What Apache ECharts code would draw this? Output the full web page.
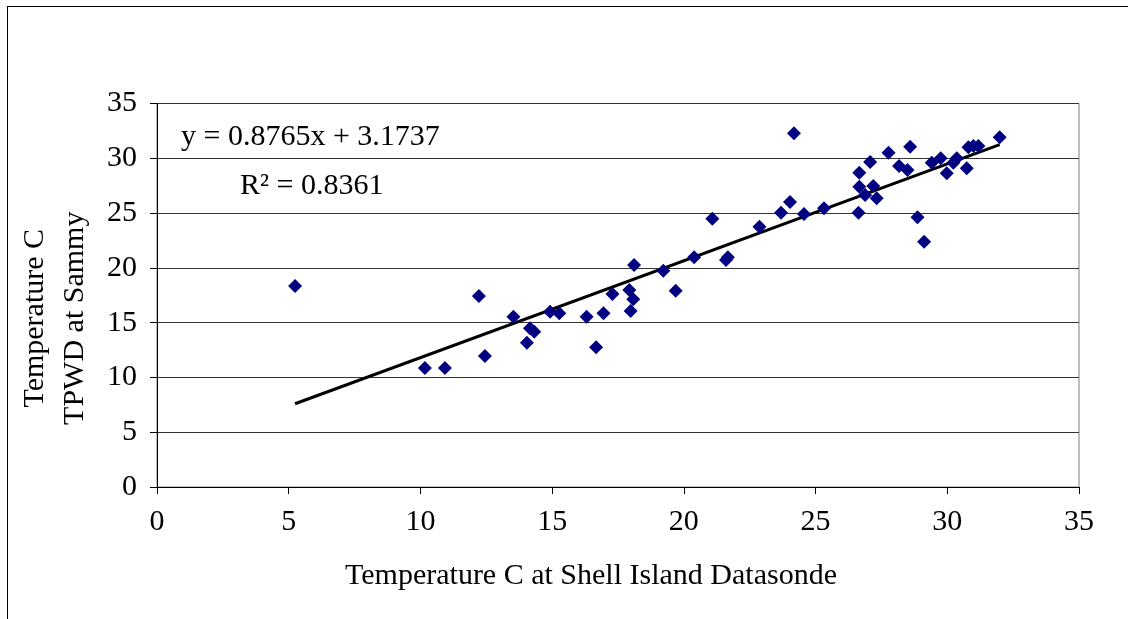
<!DOCTYPE html>
<html>
<head>
<meta charset="utf-8">
<title>Sammy vs Shell Island temperature</title>
<script src="https://cdn.jsdelivr.net/npm/echarts@6/dist/echarts.min.js"></script>
<style>
  html, body { margin: 0; padding: 0; background: #fff; overflow: hidden; }
  #frame {
    position: absolute; left: 7px; top: 6px;
    width: 1200px; height: 700px;
    border: 1.5px solid #000;
  }
  #chart { position: absolute; left: 0; top: 0; width: 1128px; height: 619px; }
</style>
</head>
<body>
<div id="frame"></div>
<div id="chart"></div>
<script>
// Shell Island Datasonde temperature (x) vs TPWD at Sammy (y)
const shellX = [
  5.24, 10.17, 10.93, 12.22, 12.45, 13.53, 14.16, 14.32, 14.04, 14.92,
  15.27, 16.31, 16.95, 16.67, 17.29, 17.93, 18.08, 17.98, 18.11, 19.22,
  19.69, 20.39, 21.08, 21.60, 21.67, 22.87, 23.69, 24.03, 24.18, 24.56,
  25.32, 26.63, 26.66, 26.66, 26.88, 27.19, 27.32, 27.07, 27.77, 28.17,
  28.49, 28.59, 28.87, 29.12, 29.41, 29.75, 29.98, 30.23, 30.36, 30.74,
  30.80, 30.99, 31.18, 31.99
]
const sammyY = [
  18.34, 10.86, 10.86, 17.43, 11.96, 15.54, 14.48, 14.18, 13.17, 16.00,
  15.85, 15.54, 15.85, 12.75, 17.61, 17.98, 17.13, 16.06, 20.26, 19.74,
  17.92, 20.96, 24.49, 20.72, 20.96, 23.76, 25.03, 26.01, 32.28, 24.92,
  25.44, 25.03, 27.41, 28.69, 26.65, 27.47, 26.35, 29.66, 30.51, 29.30,
  28.93, 31.06, 24.61, 22.39, 29.60, 30.00, 28.63, 29.60, 30.00, 29.09,
  31.00, 31.12, 31.12, 31.91
]
// linear trend line ends (y = 0.8765x + 3.1737)
const trendX = [5.24, 31.99]
const trendY = [7.60, 31.25]

const xTicks = [0, 5, 10, 15, 20, 25, 30, 35]
const yTicks = [0, 5, 10, 15, 20, 25, 30, 35]

const equationText = 'y = 0.8765x + 3.1737'
const rSquaredText = 'R² = 0.8361'

const serif = "'Liberation Serif', 'DejaVu Serif', serif"

const points = shellX.map((x, i) => [x, sammyY[i]])
const trend = trendX.map((x, i) => [x, trendY[i]])

const chart = echarts.init(document.getElementById('chart'))

chart.setOption({
  animation: false,
  backgroundColor: 'transparent',
  textStyle: { fontFamily: serif },
  grid: {
    left: 157, right: 49, top: 103.5, bottom: 132,
    show: true, borderColor: '#808080', borderWidth: 1
  },
  xAxis: {
    type: 'value',
    min: xTicks[0], max: xTicks[xTicks.length - 1], interval: 5,
    name: 'Temperature C at Shell Island Datasonde',
    nameLocation: 'middle', nameGap: 74,
    nameTextStyle: { fontFamily: serif, fontSize: 30, color: '#000', padding: [0, 54, 0, 0] },
    axisLine: { lineStyle: { color: '#000', width: 1 } },
    axisTick: { show: true, length: 7, lineStyle: { color: '#000' } },
    axisLabel: { fontFamily: serif, fontSize: 30, color: '#000', margin: 20 },
    splitLine: { show: false }
  },
  yAxis: {
    type: 'value',
    min: yTicks[0], max: yTicks[yTicks.length - 1], interval: 5,
    name: 'Temperature C\nTPWD at Sammy',
    nameLocation: 'middle', nameGap: 62, nameRotate: 90,
    nameTextStyle: { fontFamily: serif, fontSize: 30, color: '#000', lineHeight: 40, padding: [0, 46, 0, 0] },
    axisLine: { show: true, lineStyle: { color: '#000', width: 1 } },
    axisTick: { show: true, length: 7, lineStyle: { color: '#000' } },
    axisLabel: { fontFamily: serif, fontSize: 30, color: '#000', margin: 20 },
    splitLine: { show: true, lineStyle: { color: '#333', width: 1 } }
  },
  graphic: [
    {
      type: 'text', left: 181, top: 122,
      style: { text: equationText, font: '30px ' + serif, fill: '#000' }
    },
    {
      type: 'text', left: 240, top: 171,
      style: { text: rSquaredText, font: '30px ' + serif, fill: '#000' }
    }
  ],
  series: [
    {
      name: 'Trend',
      type: 'line',
      data: trend,
      showSymbol: false,
      symbol: 'none',
      lineStyle: { color: '#000', width: 3 },
      z: 3
    },
    {
      name: 'Temperature',
      type: 'scatter',
      data: points,
      symbol: 'diamond',
      symbolSize: 14,
      itemStyle: { color: '#000080', opacity: 1 },
      z: 4
    }
  ]
})
</script>
</body>
</html>
